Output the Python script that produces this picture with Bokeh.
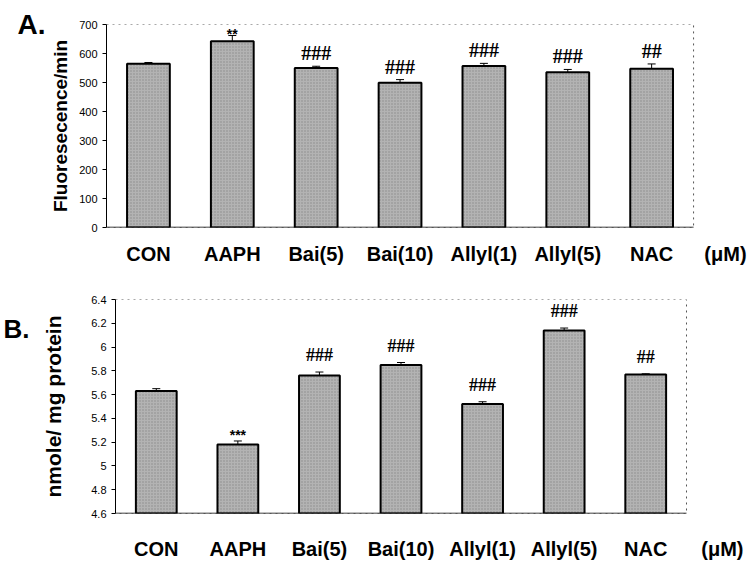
from bokeh.plotting import figure
from bokeh.models import Range1d, ColumnDataSource, FixedTicker, LinearAxis
from bokeh.layouts import column
from bokeh.embed import file_html
from bokeh.resources import INLINE
from bokeh.core.properties import value

categories = ["CON", "AAPH", "Bai(5)", "Bai(10)", "Allyl(1)", "Allyl(5)", "NAC"]
unit_label = "(\u03bcM)"

# Panel A: fluorescence
a_values = [565, 642, 550, 499, 557, 535, 547]
a_errors = [4, 20, 6, 11, 9, 10, 17]
a_marks = ["", "**", "###", "###", "###", "###", "##"]

# Panel B: nmole / mg protein
b_values = [5.63, 5.18, 5.76, 5.85, 5.52, 6.14, 5.77]
b_errors = [0.02, 0.03, 0.03, 0.02, 0.02, 0.02, 0.005]
b_marks = ["", "***", "###", "###", "###", "###", "##"]

a_ticks = [0, 100, 200, 300, 400, 500, 600, 700]
b_ticks = [4.6, 4.8, 5.0, 5.2, 5.4, 5.6, 5.8, 6.0, 6.2, 6.4]
b_tick_labels = ["4.6", "4.8", "5", "5.2", "5.4", "5.6", "5.8", "6", "6.2", "6.4"]

SANS = "Liberation Sans"
SERIF = "Liberation Serif"
BAR_FILL = "#b3b3b3"

NCAT = len(categories)
xpos = [i + 0.5 for i in range(NCAT)]


def make_panel(vals, errs, marks, ymin, ymax, ticks, tick_labels, ylabel, ylabel_size, height,
               borders, x_end, unit_x, bar_w, hash_off, hash_size, star_off,
               ylabel_standoff, xlabel_standoff, letter, letter_y, letter_size, letter_standoff):
    top, bottom, left = borders
    p = figure(width=748, height=height, x_range=Range1d(0, x_end),
               y_range=Range1d(ymin, ymax), output_backend="svg", toolbar_location=None,
               min_border_top=top, min_border_bottom=bottom, min_border_left=left,
               min_border_right=0)
    p.frame_align = False
    p.xgrid.visible = False
    p.ygrid.visible = False
    p.outline_line_color = None
    p.background_fill_color = "white"
    p.border_fill_color = "white"

    # dotted plot box over the category span
    p.quad(left=0, right=NCAT, bottom=ymin, top=ymax, fill_color=None, line_color="#555555",
           line_dash="dotted", line_width=1)

    upper = [v + e for v, e in zip(vals, errs)]
    src = ColumnDataSource(dict(x=xpos, top=vals, upper=upper))
    p.vbar(x="x", top="top", bottom=ymin, width=bar_w, source=src, fill_color=BAR_FILL,
           line_color="black", line_width=2, hatch_pattern="dot", hatch_color="#6f6f6f",
           hatch_scale=3, hatch_alpha=0.6)
    p.segment(x0="x", y0="top", x1="x", y1="upper", source=src, line_color="black", line_width=1)
    p.scatter(x="x", y="upper", source=src, marker="dash", size=8, line_color="black",
              line_width=1)
    # solid baseline
    p.segment(x0=[0], y0=[ymin], x1=[NCAT], y1=[ymin], line_color="black", line_width=1.5)

    hx = [x for x, m in zip(xpos, marks) if m.startswith("#")]
    hy = [u for u, m in zip(upper, marks) if m.startswith("#")]
    ht = [m for m in marks if m.startswith("#")]
    p.text(x=hx, y=hy, text=ht, text_align="center", text_baseline="bottom", y_offset=-hash_off,
           text_font=value(SERIF), text_font_style="bold", text_font_size=hash_size,
           text_color="black")
    sx = [x for x, m in zip(xpos, marks) if m.startswith("*")]
    sy = [u for u, m in zip(upper, marks) if m.startswith("*")]
    st = [m for m in marks if m.startswith("*")]
    p.text(x=sx, y=sy, text=st, text_align="center", text_baseline="alphabetic",
           y_offset=-star_off, text_font=value(SANS), text_font_style="bold",
           text_font_size="14px", text_color="black")

    xa = p.xaxis[0]
    xa.ticker = FixedTicker(ticks=xpos + [unit_x])
    xa.major_label_overrides = {**{x: c for x, c in zip(xpos, categories)}, unit_x: unit_label}
    xa.axis_line_color = None
    xa.major_tick_line_color = None
    xa.minor_tick_line_color = None
    xa.major_label_text_font = SANS
    xa.major_label_text_font_style = "bold"
    xa.major_label_text_font_size = "20px"
    xa.major_label_text_color = "black"
    xa.major_label_standoff = xlabel_standoff

    ya = p.yaxis[0]
    ya.ticker = FixedTicker(ticks=ticks)
    ya.major_label_overrides = {t: l for t, l in zip(ticks, tick_labels)}
    ya.axis_line_color = "black"
    ya.axis_line_width = 1
    ya.major_tick_out = 4
    ya.major_tick_in = 0
    ya.minor_tick_line_color = None
    ya.major_label_text_font = SANS
    ya.major_label_text_font_size = "11px"
    ya.major_label_text_color = "black"
    ya.major_label_standoff = 5
    ya.axis_label = ylabel
    ya.axis_label_text_font = SANS
    ya.axis_label_text_font_style = "bold"
    ya.axis_label_text_font_size = ylabel_size
    ya.axis_label_text_color = "black"
    ya.axis_label_standoff = ylabel_standoff

    # panel letter as an outer axis tick label
    la = LinearAxis(ticker=FixedTicker(ticks=[letter_y]), major_label_overrides={letter_y: letter},
                    axis_line_color=None, major_tick_line_color=None, minor_tick_line_color=None,
                    major_tick_out=0, major_tick_in=0, minor_tick_out=0, minor_tick_in=0,
                    axis_label_standoff=0,
                    major_label_text_font=SANS, major_label_text_font_style="bold",
                    major_label_text_font_size=letter_size, major_label_text_color="black",
                    major_label_standoff=letter_standoff)
    p.add_layout(la, "left")
    return p


pA = make_panel(a_values, a_errors, a_marks, 0, 700, a_ticks, [str(t) for t in a_ticks],
                "Fluoresecence/min", "19px", 270, (24, 43, 106), 7.655, 7.38, 0.51, 2, "20px", 2,
                5, 9, "A.", 700, "28px", 2)

pB = make_panel(b_values, b_errors, b_marks, 4.6, 6.4, b_ticks, b_tick_labels,
                "nmole/ mg protein", "21px", 292, (29, 43, 115), 7.76, 7.44, 0.5, 7, "18px", 6,
                23, 18, "B.", 6.155, "26px", 10)

layout = column(pA, pB, spacing=0)
open("out.html", "w").write(file_html(layout, INLINE))
